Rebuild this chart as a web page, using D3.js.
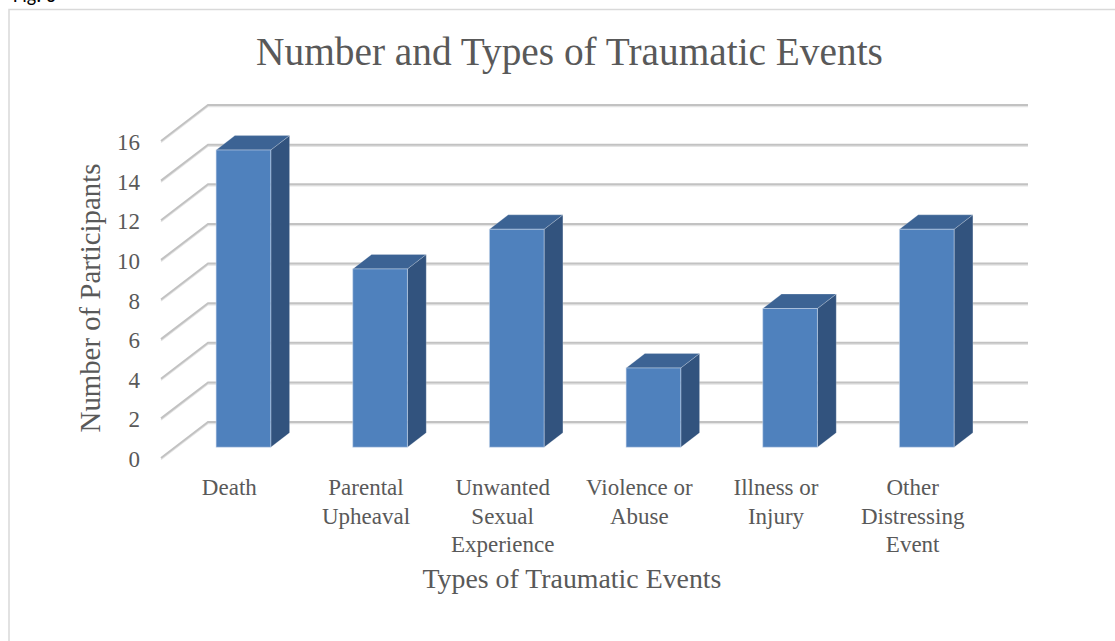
<!DOCTYPE html>
<html>
<head>
<meta charset="utf-8">
<script src="https://cdn.jsdelivr.net/npm/d3@7"></script>
<style>
  html, body { margin: 0; padding: 0; background: #fff; }
  svg { display: block; }
</style>
</head>
<body>
<svg id="chart" width="1115" height="641"></svg>
<script>
// Data
const categories = ["Death", "Parental Upheaval", "Unwanted Sexual Experience",
                    "Violence or Abuse", "Illness or Injury", "Other Distressing Event"];
const participants = [15, 9, 11, 4, 7, 11];
const yTicks = [0, 2, 4, 6, 8, 10, 12, 14, 16];

const chartTitle = "Number and Types of Traumatic Events";
const xTitle = "Types of Traumatic Events";
const yTitle = "Number of Participants";
const figLabel = "Fig. 3";

const svg = d3.select("#chart");
const serif = "'Liberation Serif', 'Times New Roman', serif";
const textGrey = "#595959";

// Oblique projection: the floor/back wall sits a fixed offset behind the front plane
const depth = { dx: 47, dy: -36 };
const barFront = 0.3, barBack = 0.7;   // bar's position within the depth

const x = d3.scaleBand().domain(categories).range([161, 981]).paddingInner(0).paddingOuter(0);
const y = d3.scaleLinear().domain([0, 16]).range([458, 141]);
const barW = x.bandwidth() * 0.4;

// figure caption above the chart frame
svg.append("text").attr("x", 13).attr("y", 2)
  .attr("font-family", "Calibri, Carlito, 'Liberation Sans', sans-serif")
  .attr("font-size", 20).attr("fill", "#000").text(figLabel);

// chart frame
svg.append("rect").attr("x", 9).attr("y", 9.5).attr("width", 1300).attr("height", 800)
  .attr("fill", "#fff").attr("stroke", "#d9d9d9").attr("stroke-width", 1.5);

// Gridlines: side-wall diagonal plus back-wall horizontal
const grid = svg.append("g");
const x0 = x.range()[0], x1 = x.range()[1];
const line = d3.line();
yTicks.forEach(v => {
  const pts = [[x0, y(v)], [x0 + depth.dx, y(v) + depth.dy], [x1 + depth.dx, y(v) + depth.dy]];
  grid.append("path").attr("d", line(pts.map(p => [p[0], p[1] + 1.5])))
    .attr("fill", "none").attr("stroke", "#e4e4e4").attr("stroke-width", 1.5);
  grid.append("path").attr("d", line(pts))
    .attr("fill", "none").attr("stroke", "#c2c2c2").attr("stroke-width", 2);
});

// Y tick labels
svg.append("g").selectAll("text").data(yTicks).join("text")
  .attr("x", 140).attr("y", d => y(d) + 1).attr("dy", "0.35em")
  .attr("text-anchor", "end")
  .attr("font-family", serif).attr("font-size", 23).attr("fill", textGrey)
  .text(d => d);

// 3D columns
const bars = svg.append("g").selectAll("g").data(categories).join("g");
bars.each(function(c, i) {
  const g = d3.select(this);
  const v = participants[i];
  const fx = x(c) + x.bandwidth() / 2 - barW / 2 + depth.dx * barFront;
  const fyOff = depth.dy * barFront;
  const bx = depth.dx * (barBack - barFront), by = depth.dy * (barBack - barFront);
  const top = y(v) + fyOff, bottom = y(0) + fyOff;
  // right side face
  g.append("path")
    .attr("d", `M${fx + barW},${top} L${fx + barW + bx},${top + by} L${fx + barW + bx},${bottom + by} L${fx + barW},${bottom} Z`)
    .attr("fill", "#32537e").attr("stroke", "rgba(255,255,255,0.25)").attr("stroke-width", 0.8);
  // top face
  g.append("path")
    .attr("d", `M${fx},${top} L${fx + bx},${top + by} L${fx + barW + bx},${top + by} L${fx + barW},${top} Z`)
    .attr("fill", "#3c6394").attr("stroke", "rgba(255,255,255,0.25)").attr("stroke-width", 0.8);
  // front face
  g.append("rect").attr("x", fx).attr("y", top).attr("width", barW).attr("height", bottom - top)
    .attr("fill", "#4f81bd").attr("stroke", "rgba(200,215,235,0.55)").attr("stroke-width", 1);
});

// Category labels, wrapped to the band width
const catSize = 23, lineH = 28.5, maxW = x.bandwidth() * 0.95;
const labels = svg.append("g");
categories.forEach(c => {
  const cx = x(c) + x.bandwidth() / 2;
  const t = labels.append("text")
    .attr("x", cx).attr("y", 495)
    .attr("text-anchor", "middle")
    .attr("font-family", serif).attr("font-size", catSize).attr("fill", textGrey);
  let words = [];
  let ts = t.append("tspan").attr("x", cx).attr("dy", 0);
  c.split(" ").forEach(w => {
    words.push(w);
    ts.text(words.join(" "));
    if (ts.node().getComputedTextLength() > maxW && words.length > 1) {
      words.pop();
      ts.text(words.join(" "));
      words = [w];
      ts = t.append("tspan").attr("x", cx).attr("dy", lineH).text(w);
    }
  });
});

// Fit a text element's font size to a target width
function fit(sel, target) {
  const fs = +sel.attr("font-size");
  const w = sel.node().getComputedTextLength();
  sel.attr("font-size", fs * target / w);
}

// Titles
const title = svg.append("text").attr("x", 569.5).attr("y", 65)
  .attr("text-anchor", "middle").attr("font-family", serif)
  .attr("font-size", 36).attr("fill", textGrey).text(chartTitle);
fit(title, 627);

const xt = svg.append("text").attr("x", 572).attr("y", 588)
  .attr("text-anchor", "middle").attr("font-family", serif)
  .attr("font-size", 24).attr("fill", textGrey).text(xTitle);
fit(xt, 299);

const yt = svg.append("text").attr("transform", "translate(100,298) rotate(-90)")
  .attr("text-anchor", "middle").attr("font-family", serif)
  .attr("font-size", 24).attr("fill", textGrey).text(yTitle);
fit(yt, 269);
</script>
</body>
</html>
